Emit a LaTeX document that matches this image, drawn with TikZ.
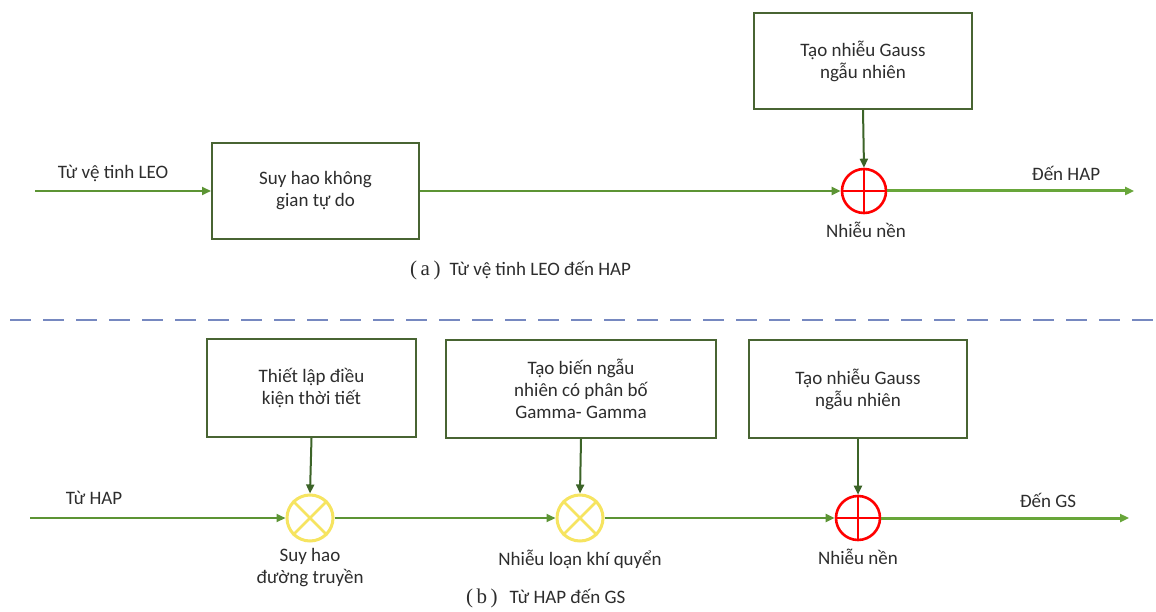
\documentclass[tikz,border=0pt]{standalone}
\usepackage{fontspec}
\setmainfont{Carlito}
\newfontfamily\capfont{Liberation Serif}
\usetikzlibrary{arrows.meta}
\definecolor{lineg}{RGB}{92,148,52}
\definecolor{outg}{RGB}{104,166,58}
\definecolor{boxg}{RGB}{72,100,50}
\definecolor{vertg}{RGB}{60,100,40}
\definecolor{yel}{RGB}{246,228,96}
\definecolor{dashc}{RGB}{118,136,192}
\definecolor{txt}{RGB}{45,45,45}
\begin{document}
\begin{tikzpicture}[x=1pt,y=-1pt,
  font=\fontsize{19}{22}\selectfont,
  blk/.style={draw=boxg, line width=2pt, align=center, inner sep=0pt, text=txt},
  lbl/.style={text=txt, align=center, inner sep=0pt},
  tip/.style={-{Triangle[length=9pt,width=8pt]}},
  sig/.style={draw=lineg, line width=2.2pt, tip},
  sigout/.style={draw=outg, line width=3pt, tip},
  vert/.style={draw=vertg, line width=2pt, tip},
  sumred/.style={circle, draw=red, line width=2.6pt, minimum size=44pt, inner sep=0pt},
  mulyel/.style={circle, draw=yel, line width=3pt, minimum size=46pt, inner sep=0pt}]
\path[use as bounding box, fill=white] (0,0) rectangle (1156,612);

% ---------- (a) ----------
\coordinate (inA) at (35,191);
\coordinate (outA) at (1134,191);
\node[blk, minimum width=207pt, minimum height=96pt] (b1) at (315.5,191) {Suy hao không\\gian tự do};
\node[blk, minimum width=218pt, minimum height=96pt] (g1) at (863,61) {Tạo nhiễu Gauss\\ngẫu nhiên};
\node[sumred] (s1) at (864,191) {};
\draw[red, line width=2.6pt] (s1.north) -- (s1.south) (s1.west) -- (s1.east);
\draw[sig] (inA) -- (b1.west);
\draw[sig] (b1.east) -- (s1.west);
\draw[sigout] (s1.east) -- (outA);
\draw[vert] (g1.south) -- (s1.north);
\node[lbl] (lA) at (113,173) {Từ vệ tinh LEO};
\node[lbl] (oA) at (1066,173) {Đến HAP};
\node[lbl] (nA) at (866,230) {Nhiễu nền};
\node[lbl, anchor=west] (capA) at (410,270) {{\capfont\fontsize{21}{24}\selectfont(\,a\,)}\hspace{9pt}Từ vệ tinh LEO đến HAP};

% ---------- divider ----------
\coordinate (dl) at (10,320);
\coordinate (dr) at (1156,320);
\draw[dashc, line width=2pt, dash pattern=on 21pt off 12pt] (dl) -- (dr);

% ---------- (b) ----------
\coordinate (inB) at (30,518);
\coordinate (outB) at (1129,518);
\node[blk, minimum width=209pt, minimum height=98pt] (c1) at (311.5,388) {Thiết lập điều\\kiện thời tiết};
\node[blk, minimum width=270pt, minimum height=98pt] (c2) at (581,389) {Tạo biến ngẫu\\nhiên có phân bố\\Gamma- Gamma};
\node[blk, minimum width=218pt, minimum height=98pt] (c3) at (858,389) {Tạo nhiễu Gauss\\ngẫu nhiên};
\node[mulyel] (m1) at (310,518) {};
\node[mulyel] (m2) at (580,518) {};
\node[sumred] (s2) at (858,518) {};
\draw[yel, line width=2.6pt] (m1.north east) -- (m1.south west) (m1.north west) -- (m1.south east);
\draw[yel, line width=2.6pt] (m2.north east) -- (m2.south west) (m2.north west) -- (m2.south east);
\draw[red, line width=2.6pt] (s2.north) -- (s2.south) (s2.west) -- (s2.east);
\draw[sig] (inB) -- (m1.west);
\draw[sig] (m1.east) -- (m2.west);
\draw[sig] (m2.east) -- (s2.west);
\draw[sigout] (s2.east) -- (outB);
\draw[vert] (c1.south) -- (m1.north);
\draw[vert] (c2.south) -- (m2.north);
\draw[vert] (c3.south) -- (s2.north);
\node[lbl] (lB) at (94,498) {Từ HAP};
\node[lbl] (oB) at (1048,500) {Đến GS};
\node[lbl] (n1) at (310,568) {Suy hao\\đường truyền};
\node[lbl] (n2) at (580,559) {Nhiễu loạn khí quyển};
\node[lbl] (n3) at (858,557) {Nhiễu nền};
\node[lbl, anchor=west] (capB) at (466,598) {{\capfont\fontsize{21}{24}\selectfont(\,b\,)}\hspace{12pt}Từ HAP đến GS};
\end{tikzpicture}
\end{document}
